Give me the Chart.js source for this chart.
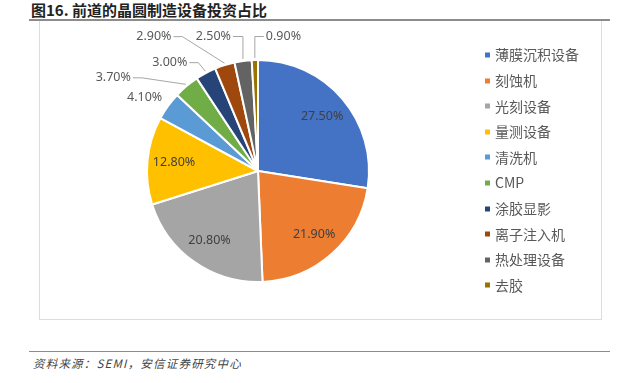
<!DOCTYPE html>
<html>
<head>
<meta charset="utf-8">
<script src="https://cdn.jsdelivr.net/npm/chart.js@4"></script>
<style>
body { margin: 0; background: #fff; }
#wrap { position: relative; width: 625px; height: 383px; overflow: hidden; }
#title { position: absolute; left: 31px; top: 0px; font: bold 15px "Noto Sans CJK SC", sans-serif; color: #222; line-height: 20px; white-space: nowrap; }
#rule1 { position: absolute; left: 29px; top: 19px; width: 581px; height: 2px; background: #8c8c8c; }
#box { position: absolute; left: 39px; top: 21px; width: 561px; height: 298px; border: 1px solid #dcdcdc; border-top: none; }
#rule2 { position: absolute; left: 29px; top: 351px; width: 581px; height: 1px; background: #8c8c8c; }
#source { position: absolute; left: 33px; top: 355px; font: italic 11.5px "Noto Sans CJK SC", sans-serif; color: #444; letter-spacing: 1.2px; white-space: nowrap; line-height: 16px; }
canvas { position: absolute; left: 0; top: 0; }
</style>
</head>
<body>
<div id="wrap">
  <div id="title">图16. 前道的晶圆制造设备投资占比</div>
  <div id="rule1"></div>
  <div id="box"></div>
  <div id="rule2"></div>
  <div id="source">资料来源：SEMI，安信证券研究中心</div>
  <canvas id="myChart" width="625" height="383"></canvas>
</div>
<script>
var categories = ['薄膜沉积设备', '刻蚀机', '光刻设备', '量测设备', '清洗机', 'CMP', '涂胶显影', '离子注入机', '热处理设备', '去胶'];
var shares = [27.5, 21.9, 20.8, 12.8, 4.1, 3.7, 3.0, 2.9, 2.5, 0.9];
var colors = ['#4472C4', '#ED7D31', '#A5A5A5', '#FFC000', '#5B9BD5', '#70AD47', '#264478', '#9E480E', '#636363', '#997300'];

// where the outside labels sit, relative to the slice's outer edge (dx, dy, align, leader)
var outside = {
    4: [-5, -8, 'right', false],
    5: [-55, -8, 'right', true],
    6: [-18, -10, 'right', true],
    7: [-53, -28, 'right', true],
    8: [-12, -24, 'right', true],
    9: [11, -23, 'left', true]
};

var labelPlugin = {
    id: 'labels',
    afterDatasetsDraw: function(chart) {
        var ctx = chart.ctx;
        var meta = chart.getDatasetMeta(0);
        ctx.save();
        ctx.font = '12.5px "Noto Sans", sans-serif';
        ctx.textBaseline = 'middle';
        meta.data.forEach(function(arc, i) {
            var mid = (arc.startAngle + arc.endAngle) / 2;
            var txt = shares[i].toFixed(2) + '%';
            var cos = Math.cos(mid), sin = Math.sin(mid);
            if (!outside[i]) {
                var r = arc.outerRadius * 0.76;
                ctx.fillStyle = '#404040';
                ctx.textAlign = 'center';
                ctx.fillText(txt, arc.x + cos * r, arc.y + sin * r);
                return;
            }
            var o = outside[i];
            var ex = arc.x + cos * (arc.outerRadius + 1);
            var ey = arc.y + sin * (arc.outerRadius + 1);
            var ax = ex + o[0], ay = ey + o[1];
            if (o[3]) {
                var dir = o[2] == 'right' ? 1 : -1;
                ctx.strokeStyle = '#a6a6a6';
                ctx.lineWidth = 1;
                ctx.beginPath();
                ctx.moveTo(ax + dir * 2, ay + 0.5);
                var elx = ax + dir * 11;
                if (Math.abs(elx - ex) < 3) elx = ex;
                ctx.lineTo(elx, ay + 0.5);
                ctx.lineTo(ex, ey - 1);
                ctx.stroke();
            }
            ctx.fillStyle = '#595959';
            ctx.textAlign = o[2];
            ctx.fillText(txt, ax, ay);
        });
        ctx.restore();
    }
};

var legendPlugin = {
    id: 'sideLegend',
    afterDraw: function(chart) {
        var ctx = chart.ctx;
        ctx.save();
        ctx.font = '14px "Noto Sans CJK SC", sans-serif';
        ctx.textBaseline = 'middle';
        ctx.textAlign = 'left';
        categories.forEach(function(c, i) {
            var y = 55 + i * 25.6;
            ctx.fillStyle = colors[i];
            ctx.fillRect(485, Math.round(y) - 2.5, 5, 5);
            ctx.fillStyle = '#595959';
            ctx.fillText(c, 495, y);
        });
        ctx.restore();
    }
};

var ctx = document.getElementById('myChart').getContext('2d');
var chart = new Chart(ctx, {
    type: 'pie',
    data: {
        labels: categories,
        datasets: [{
            data: shares,
            backgroundColor: colors,
            borderColor: '#ffffff',
            borderWidth: 2
        }]
    },
    options: {
        responsive: false,
        animation: false,
        events: [],
        layout: { padding: { left: 146, right: 255, top: 59, bottom: 100 } },
        plugins: {
            legend: { display: false },
            tooltip: { enabled: false }
        }
    },
    plugins: [labelPlugin, legendPlugin]
});
</script>
</body>
</html>
